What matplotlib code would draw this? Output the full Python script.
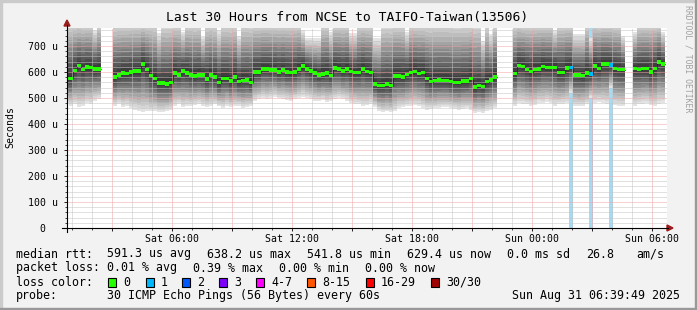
import numpy as np
import pandas as pd
import matplotlib
matplotlib.use("Agg")
import matplotlib.pyplot as plt
import matplotlib.dates as mdates
from matplotlib.patches import Rectangle, Polygon
from matplotlib.lines import Line2D
from matplotlib.ticker import MultipleLocator, FuncFormatter

plt.rcParams['font.family'] = ['DejaVu Sans Mono']

nan = np.nan
W, H = 697, 310

# one sample every 12 minutes, first sample Sat Aug 30 2025 00:44
t_start = pd.Timestamp("2025-08-30 00:44")
step_min = 12

# median rtt in microseconds (nan = no data)
median = [576, 576, 606, 624, 610, 619, 617, 611, 611, nan, nan, nan,
          581, 588, 596, 594, 600, 604, 604, 630, 610, 586, 576, 557, 557, 554, 560,
          596, 588, 604, 596, 588, 584, 588, 588, 573, 588, 580, 559, 576, 576, 565, 580, 563, 567, 569, 560,
          600, 600, 611, 611, 608, 608, 600, 608, 600, 597, 600, 611, 623, 611, 604, 596, 588, 592, 596, 586,
          615, 611, 604, 611,
          601, 597, 597, 611, 601, 597, 554, 547, 547, 553, 547, 584, 584, 580, 590, 597, 601, 595, 597, 576,
          563, 567, 569, 568,
          568, 563, 559, 559, 565, 565, 574, 542, 548, 543, 563, 569, 580, nan, nan, nan, nan,
          595, 626, 621, 610, 601, 610, 611, 622, 618, 618, 618, 599, 599, 615, 618, 588, 588, 586, 596, 592,
          623, 614, 630, 630, 627, 613, 609, 609, nan, nan,
          613, 610, 613, 613, 600, 614, 638, 630, nan]

# lowest ping of each sample (bottom of the smoke)
smoke_lo = [480, 470, 475, 465, 470, 480, 475, 490, 495, nan, nan, nan,
            470, 475, 465, 470, 460, 455, 450, 445, 450, 448, 450, 447, 445, 450, 455,
            470, 475, 465, 470, 468, 472, 478, 470, 465, 470, 475, 468, 462, 470, 465, 468, 470, 462, 466, 470,
            490, 495, 500, 495, 500, 505, 498, 495, 492, 490, 495, 500, 505, 500, 495, 490, 488, 492, 485, 490,
            495, 500, 495, 490,
            480, 478, 475, 470, 472, 478, 465, 450, 445, 448, 446, 450, 462, 465, 468, 470, 472, 470, 462, 455,
            458, 460, 462, 465,
            465, 462, 458, 455, 458, 460, 455, 442, 445, 442, 450, 455, 460, nan, nan, nan, nan,
            470, 480, 478, 475, 470, 472, 482, 480, 485, 480, 470, 475, 478, 480, 519, 470, 468, 470, 475, 500,
            482, 485, 480, 478, 538, 472, 470, 468, nan, nan,
            470, 475, 478, 480, 472, 470, 478, 480, nan]

# highest ping: above the top of the graph except for these samples
smoke_hi_default = 800
smoke_hi_low = {7: 762, 23: 750, 29: 755, 34: 735, 38: 760, 43: 740, 59: 760, 60: 730, 61: 730,
                62: 730, 63: 730, 66: 755, 71: 750, 72: 750, 77: 730, 78: 730, 85: 755, 104: 720,
                106: 745, 122: 760, 127: 745, 128: 745, 129: 745, 131: 730, 139: 740, 142: 755, 149: 755}

# lost pings per sample (all others 0)
lost_pings = {126: 1, 131: 1, 136: 1}

loss_labels = ['0', '1', '2', '3', '4-7', '8-15', '16-29', '30/30']
loss_colors = ['#26ff00', '#00b8ff', '#0059ff', '#7e00ff', '#ff00ff', '#ff5500', '#ff0000', '#a10000']

med = np.array(median, float)
lo = np.array(smoke_lo, float)
n = len(med)
hi = np.full(n, float(smoke_hi_default))
for k, v in smoke_hi_low.items():
    hi[k] = v
loss = np.zeros(n)
for k, v in lost_pings.items():
    loss[k] = v

times = pd.date_range(t_start, periods=n, freq=f"{step_min}min")
centers = mdates.date2num(times.to_pydatetime())
width = step_min / 1440.0
left = centers - width / 2

fig = plt.figure(figsize=(W / 100, H / 100), dpi=100)
fig.patch.set_facecolor('#f2f2f2')
ax = fig.add_axes([67 / W, 1 - 228 / H, 600 / W, 200 / H])
ax.set_facecolor('white')
ymax = 769
ax.set_ylim(0, ymax)
ax.set_xlim(mdates.date2num(t_start), mdates.date2num(t_start + pd.Timedelta(hours=30)))

ok = ~np.isnan(med)

# smoke: 30 sorted pings, grey gets darker towards the median
n_p = 30
u = (np.arange(1, n_p + 1) - 15.5) / 14.5
shape = np.sign(u) * np.abs(u) ** 1.0
pings = np.where(shape[:, None] > 0,
                 med[None, :] + shape[:, None] * (hi - med)[None, :],
                 med[None, :] + shape[:, None] * (med - lo)[None, :])
for k in range(n_p - 1):
    g = int(190 / 15 * abs(15 - (k + 1))) + 50
    col = '#%02x%02x%02x' % (g, g, g)
    ax.bar(left[ok], (pings[k + 1] - pings[k])[ok], bottom=pings[k][ok], width=width,
           align='edge', color=col, linewidth=0, antialiased=False, zorder=1)

# loss bars
lcol = '#a4dcf5'
lm = loss > 0
ax.bar(left[lm], lo[lm], bottom=0, width=width, align='edge', color=lcol, linewidth=0, zorder=1)
top_m = lm & (hi < ymax)
ax.bar(left[top_m], ymax - hi[top_m], bottom=hi[top_m], width=width, align='edge', color=lcol,
       linewidth=0, zorder=1)

# median
ax.step(np.append(left, left[-1] + width), np.append(med, med[-1]), where='post',
        color='#202020', lw=0.5, zorder=3)
half = 6.5
colors = np.array([loss_colors[int(l)] if l < 4 else loss_colors[4] for l in loss])
ax.bar(left[ok], 2 * half, bottom=med[ok] - half, width=width, align='edge',
       color=colors[ok], linewidth=0, antialiased=False, zorder=4)

# grid
ax.xaxis.set_major_locator(mdates.HourLocator(byhour=range(0, 24, 3)))
ax.xaxis.set_minor_locator(mdates.HourLocator())


def xfmt(x, pos):
    d = mdates.num2date(x)
    if d.hour % 6 == 0:
        return d.strftime('%a %H:%M')
    return ''


ax.xaxis.set_major_formatter(FuncFormatter(xfmt))
ax.yaxis.set_major_locator(MultipleLocator(100))
ax.yaxis.set_minor_locator(MultipleLocator(20))
ax.yaxis.set_major_formatter(FuncFormatter(lambda v, p: '0  ' if v == 0 else '%d u' % v))
ax.set_axisbelow(False)
dot = (0, (1, 1))
ax.grid(which='minor', color='#c4c4c4', lw=0.72, linestyle=dot, zorder=2)
ax.grid(which='major', color='#f5a0a0', lw=0.72, linestyle=dot, zorder=2)
ax.tick_params(which='both', labelsize=7.1, length=2, width=0.6, color='#000000', pad=2.5)
ax.tick_params(which='minor', length=1.2, width=0.5)
ax.tick_params(axis='y', pad=4.5)
for s in ax.spines.values():
    s.set_visible(False)


def fx(x):
    return x / W


def fy(y):
    return 1 - y / H


# axis lines and arrows
fig.add_artist(Line2D([fx(62), fx(668)], [fy(228), fy(228)], color='black', lw=0.8))
fig.add_artist(Line2D([fx(67), fx(67)], [fy(232), fy(25)], color='black', lw=0.8))
arrow = '#9b1c1c'
fig.add_artist(Polygon([(fx(667), fy(225)), (fx(667), fy(231)), (fx(673), fy(228))],
                       closed=True, color=arrow, transform=fig.transFigure))
fig.add_artist(Polygon([(fx(64), fy(26)), (fx(70), fy(26)), (fx(67), fy(20))],
                       closed=True, color=arrow, transform=fig.transFigure))

# frame shading
fig.add_artist(Rectangle((0, fy(2)), 1, 2 / H, color='#cbcbcb', transform=fig.transFigure))
fig.add_artist(Rectangle((0, 0), 2 / W, 1, color='#cbcbcb', transform=fig.transFigure))
fig.add_artist(Rectangle((fx(695), 0), 2 / W, 1, color='#999999', transform=fig.transFigure))
fig.add_artist(Rectangle((0, 0), 1, 2 / H, color='#999999', transform=fig.transFigure))

# texts
fig.text(fx(347), fy(18), 'Last 30 Hours from NCSE to TAIFO-Taiwan(13506)', ha='center', va='center',
         fontsize=9.4)
fig.text(fx(10), fy(127), 'Seconds', rotation=90, ha='center', va='center', fontsize=7.1)
fig.text(fx(688), fy(5), 'RRDTOOL / TOBI OETIKER', rotation=270, ha='center', va='top',
         fontsize=5.9, color='#a0a0a0')

fs = 8.4
row1 = [(16, 'median rtt:'), (107, '591.3 us avg'), (207, '638.2 us max'), (307, '541.8 us min'),
        (407, '629.4 us now'), (507, '0.0 ms sd'), (586, '26.8'), (636, 'am/s')]
row2 = [(16, 'packet loss:'), (107, '0.01 % avg'), (193, '0.39 % max'), (279, '0.00 % min'),
        (365, '0.00 % now')]
for x, s in row1:
    fig.text(fx(x), fy(254), s, ha='left', va='center', fontsize=fs)
for x, s in row2:
    fig.text(fx(x), fy(268), s, ha='left', va='center', fontsize=fs)
fig.text(fx(16), fy(282), 'loss color:', ha='left', va='center', fontsize=fs)
box_x = [108, 146, 182, 219, 256, 307, 366, 431]
for bx, lab, c in zip(box_x, loss_labels, loss_colors):
    fig.add_artist(Rectangle((fx(bx), fy(286.5)), 8 / W, 9 / H, facecolor=c, edgecolor='black',
                             lw=0.8, transform=fig.transFigure))
    fig.text(fx(bx + 15), fy(282), lab, ha='left', va='center', fontsize=fs)
fig.text(fx(16), fy(296), 'probe:', ha='left', va='center', fontsize=fs)
fig.text(fx(107), fy(296), '30 ICMP Echo Pings (56 Bytes) every 60s', ha='left', va='center', fontsize=fs)
fig.text(fx(680), fy(296), 'Sun Aug 31 06:39:49 2025', ha='right', va='center', fontsize=fs)

fig.savefig('out.png', dpi=100, facecolor=fig.get_facecolor())
